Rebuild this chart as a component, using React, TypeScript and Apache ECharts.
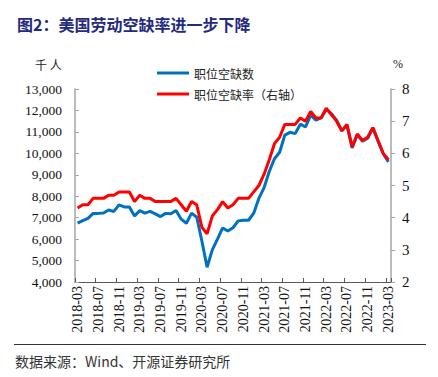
import React, { useEffect, useRef } from "react";
import * as echarts from "echarts";

const months = [
  "2018-03","2018-04","2018-05","2018-06","2018-07","2018-08","2018-09","2018-10","2018-11","2018-12",
  "2019-01","2019-02","2019-03","2019-04","2019-05","2019-06","2019-07","2019-08","2019-09","2019-10","2019-11","2019-12",
  "2020-01","2020-02","2020-03","2020-04","2020-05","2020-06","2020-07","2020-08","2020-09","2020-10","2020-11","2020-12",
  "2021-01","2021-02","2021-03","2021-04","2021-05","2021-06","2021-07","2021-08","2021-09","2021-10","2021-11","2021-12",
  "2022-01","2022-02","2022-03","2022-04","2022-05","2022-06","2022-07","2022-08","2022-09","2022-10","2022-11","2022-12",
  "2023-01","2023-02","2023-03",
];

// 职位空缺数（千人）
const openings = [
  6750, 6860, 6970, 7200, 7200, 7220, 7360, 7290, 7600, 7500,
  7500, 7080, 7330, 7210, 7290, 7180, 7050, 7200, 7180, 7330, 6930, 6740,
  7210, 7020, 5900, 4690, 5500, 6000, 6520, 6380, 6530, 6850, 6880, 6880,
  7210, 7900, 8400, 9150, 9750, 10050, 10850, 10980, 10920, 11360, 11230, 11780,
  11550, 11650, 12050, 11850, 11550, 11050, 11300, 10250, 10870, 10560, 10700, 11180,
  10560, 9980, 9600,
];

// 职位空缺率（%）
const rate = [
  4.3, 4.4, 4.4, 4.6, 4.6, 4.6, 4.7, 4.7, 4.8, 4.8,
  4.8, 4.5, 4.7, 4.6, 4.6, 4.5, 4.5, 4.5, 4.5, 4.6, 4.4, 4.2,
  4.5, 4.4, 3.7, 3.5, 4.05, 4.25, 4.5, 4.3, 4.4, 4.6, 4.6, 4.6,
  4.8, 5.0, 5.35, 5.8, 6.3, 6.5, 6.9, 6.9, 6.9, 7.1, 7.0, 7.3,
  7.1, 7.1, 7.4, 7.2, 7.0, 6.7, 6.9, 6.2, 6.6, 6.4, 6.5, 6.8,
  6.4, 6.0, 5.8,
];

const SERIF = "'Liberation Serif', 'Times New Roman', serif";
const CJK = "'Noto Sans CJK SC', sans-serif";

export default function App() {
  const ref = useRef<HTMLDivElement>(null);
  useEffect(() => {
    if (!ref.current) return;
    const chart = echarts.init(ref.current, null, { renderer: "svg" });
    chart.setOption({
      animation: false,
      backgroundColor: "#ffffff",
      grid: { left: 75, right: 47, top: 89, bottom: 95, containLabel: false },
      legend: {
        orient: "vertical",
        left: 152,
        top: 61,
        itemWidth: 32,
        itemHeight: 3,
        itemGap: 7,
        icon: "rect",
        textStyle: { fontFamily: CJK, fontSize: 12, color: "#222", lineHeight: 14 },
        data: ["职位空缺数", "职位空缺率（右轴）"],
      },
      graphic: [
        {
          type: "text",
          left: 17,
          top: 16,
          style: { text: "图2：美国劳动空缺率进一步下降", fontFamily: CJK, fontSize: 16, fontWeight: "bold", fill: "#1f2a80" },
        },
        {
          type: "text",
          left: 35,
          top: 58,
          style: { text: "千 人", fontFamily: CJK, fontSize: 12, fill: "#222" },
        },
        {
          type: "text",
          left: 393,
          top: 58,
          style: { text: "%", fontFamily: SERIF, fontSize: 12, fill: "#222" },
        },
        {
          type: "line",
          shape: { x1: 14, y1: 344.5, x2: 426, y2: 344.5 },
          style: { stroke: "#333", lineWidth: 1 },
        },
        {
          type: "text",
          left: 15,
          top: 354,
          style: { text: "数据来源：Wind、开源证券研究所", fontFamily: CJK + "," + SERIF, fontSize: 14, fill: "#333" },
        },
      ],
      xAxis: {
        type: "category",
        data: months,
        boundaryGap: true,
        axisLine: { show: true, lineStyle: { color: "#595959", width: 1 } },
        axisTick: { show: true, inside: true, length: 4, interval: 3, lineStyle: { color: "#595959" } },
        axisLabel: { interval: 3, rotate: 90, fontFamily: SERIF, fontSize: 14, color: "#111", margin: 4 },
        splitLine: { show: false },
      },
      yAxis: [
        {
          type: "value",
          min: 4000,
          max: 13000,
          interval: 1000,
          axisLine: { show: true, lineStyle: { color: "#a6a6a6", width: 1.5 } },
          axisTick: { show: true, inside: true, length: 4, lineStyle: { color: "#a6a6a6" } },
          axisLabel: {
            fontFamily: SERIF,
            fontSize: 13.5,
            color: "#111",
            margin: 13,
            formatter: (v: number) => v.toLocaleString("en-US"),
          },
          splitLine: { show: false },
        },
        {
          type: "value",
          min: 2,
          max: 8,
          interval: 1,
          position: "right",
          axisLine: { show: true, lineStyle: { color: "#a6a6a6", width: 1.5 } },
          axisTick: { show: true, inside: false, length: 4, lineStyle: { color: "#a6a6a6" } },
          axisLabel: { fontFamily: SERIF, fontSize: 15, color: "#111", margin: 11 },
          splitLine: { show: false },
        },
      ],
      series: [
        {
          name: "职位空缺数",
          type: "line",
          data: openings,
          yAxisIndex: 0,
          symbol: "none",
          lineStyle: { color: "#0070c0", width: 3 },
          itemStyle: { color: "#0070c0" },
        },
        {
          name: "职位空缺率（右轴）",
          type: "line",
          data: rate,
          yAxisIndex: 1,
          symbol: "none",
          lineStyle: { color: "#ff0000", width: 3 },
          itemStyle: { color: "#ff0000" },
        },
      ],
    });
    return () => chart.dispose();
  }, []);
  return (
    <div
      ref={ref}
      style={{ position: "fixed", left: 0, top: 0, width: 438, height: 377, background: "#fff" }}
    />
  );
}
